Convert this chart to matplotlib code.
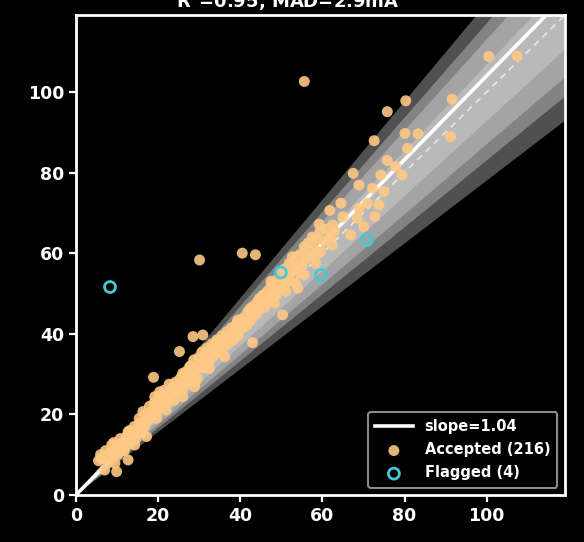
import matplotlib
matplotlib.use("Agg")
import matplotlib.pyplot as plt
import numpy as np

# ---------------- data ----------------
title_text = "R$^2$=0.95, MAD=2.9mA"
fit_slope = 1.04
band_halfwidths = [0.22, 0.17, 0.13, 0.07]
axis_max = 119
ticks = [0, 20, 40, 60, 80, 100]

acc_x = [55.6, 80.3, 75.8, 91.6, 72.6, 80.1, 83.3, 91.2, 80.7, 67.5, 75.8, 77.8, 79.4, 74.2,
         68.9, 72.2, 75.0, 64.5, 73.8, 70.9, 61.8, 68.9, 72.8, 59.2, 62.5, 68.5, 70.1, 66.9,
         62.1, 59.6, 55.6, 62.4, 100.5, 107.4, 30.1, 40.5, 43.7, 52.7, 58.4, 55.6, 54.0, 51.1,
         47.5, 44.7, 50.3, 48.3, 42.2, 39.4, 43.0, 28.5, 30.9, 25.2, 37.8, 34.1, 36.2, 31.7,
         27.7, 32.5, 29.3, 26.0, 25.7, 18.9, 32.5, 20.4, 22.8, 19.2, 26.0, 28.9, 16.3, 19.6,
         15.5, 12.7, 17.2, 14.3, 8.7, 11.1, 6.2, 9.5, 12.7, 7.0, 9.9, 22.0,
         5.5, 6.0, 6.5, 7.2, 7.8, 8.3, 8.8, 9.2, 9.6, 10.2, 10.5, 10.8,
         11.4, 11.8, 12.3, 12.6, 13.1, 13.4, 13.9, 14.2, 14.6, 15.0,
         15.4, 15.8, 16.2, 16.7, 17.1, 17.5, 17.9, 18.3, 18.7, 19.1, 19.5, 19.9,
         20.3, 20.7, 21.1, 21.5, 21.9, 22.3, 22.7, 23.1, 23.5, 23.9, 24.3, 24.7,
         25.1, 25.5, 25.9, 26.3, 26.7, 27.1, 27.5, 27.9, 28.3, 28.7, 29.1, 29.5, 29.9,
         30.3, 30.7, 31.1, 31.5, 31.9, 32.3, 32.7, 33.1, 33.5, 33.9, 34.3, 34.7,
         35.1, 35.5, 35.9, 36.3, 36.7, 37.1, 37.5, 37.9, 38.3, 38.7, 39.1, 39.5, 39.9,
         40.3, 40.7, 41.1, 41.5, 41.9, 42.3, 42.7, 43.1, 43.5, 43.9, 44.3, 44.7,
         45.1, 45.5, 45.9, 46.3, 46.7, 47.1, 47.5, 47.9, 48.3, 48.7, 49.1, 49.5, 49.9,
         50.3, 50.7, 51.1, 51.5, 51.9, 52.3, 52.7, 53.1, 53.5, 53.9, 54.3, 54.7,
         55.1, 55.5, 56.0, 56.5, 57.0, 57.5, 58.0, 58.5, 59.0, 59.5,
         60.5, 61.0, 63.0, 65.0]
acc_y = [102.6, 97.8, 95.1, 98.2, 87.9, 89.7, 89.6, 88.9, 86.0, 79.8, 83.0, 81.5, 79.4, 79.4,
         76.9, 76.1, 75.3, 72.4, 72.0, 72.4, 70.6, 71.1, 69.1, 67.2, 67.0, 68.7, 66.6, 64.5,
         64.1, 60.4, 61.6, 62.0, 108.8, 108.9, 58.3, 60.0, 59.6, 59.1, 57.5, 54.6, 51.3, 53.3,
         51.7, 48.8, 44.7, 47.6, 45.9, 43.4, 37.8, 39.3, 39.7, 35.6, 40.1, 37.6, 34.3, 35.2,
         31.8, 31.4, 28.5, 30.2, 26.9, 29.2, 33.1, 25.6, 24.0, 24.4, 24.4, 26.9, 20.7, 19.0,
         17.8, 15.7, 14.5, 12.4, 12.4, 11.2, 9.1, 7.9, 8.7, 6.2, 5.8, 21.1,
         8.5, 10.0, 9.0, 11.0, 8.0, 10.5, 9.5, 13.0, 11.5, 10.0, 12.5, 14.0,
         13.0, 11.0, 14.5, 12.5, 16.0, 13.5, 15.0, 17.0, 14.0, 16.5,
         19.0, 15.5, 18.0, 17.0, 20.0, 18.5, 22.0, 19.5, 21.0, 23.0, 20.5, 22.5,
         24.5, 21.5, 23.5, 26.0, 22.5, 25.0, 27.5, 24.0, 26.5, 23.5, 28.0, 25.5,
         27.0, 29.0, 26.0, 28.5, 30.5, 27.5, 29.5, 32.0, 30.0, 33.5, 31.0, 29.0, 34.0,
         32.5, 35.5, 31.5, 34.0, 36.5, 33.0, 35.0, 37.5, 34.5, 36.0, 38.5, 35.5,
         37.0, 39.5, 36.5, 38.0, 40.5, 37.5, 39.0, 41.5, 38.5, 40.0, 42.5, 39.5, 41.0,
         43.5, 41.5, 44.0, 42.0, 45.5, 43.0, 46.5, 44.0, 47.0, 45.0, 48.0, 46.0,
         47.5, 49.5, 46.5, 48.5, 50.5, 49.0, 53.0, 50.0, 52.0, 49.5, 53.5, 51.0, 55.0,
         52.5, 56.0, 50.5, 54.0, 57.5, 53.0, 55.5, 58.0, 52.5, 56.5, 59.5, 55.0,
         57.0, 60.0, 58.5, 62.5, 59.5, 64.0, 61.0, 63.5, 60.0, 65.5,
         63.0, 66.0, 65.5, 69.0]

flag_x = [8.3, 49.9, 59.6, 70.9]
flag_y = [51.6, 55.2, 54.6, 63.3]

# ---------------- plot ----------------
plt.rcParams['font.family'] = ['DejaVu Sans']
fig = plt.figure(figsize=(5.84, 5.42), dpi=100, facecolor='black')
ax = fig.add_axes([0.130, 0.0867, 0.837, 0.885])
ax.set_facecolor('black')

xx = np.linspace(0, axis_max, 200)
for w in band_halfwidths:
    ax.fill_between(xx, (1 - w) * xx, (1 + w) * xx, color='#e0e0e0', alpha=0.36,
                    linewidth=0, zorder=1)

ax.plot(xx, xx, color='#e8e8e8', lw=1.2, ls=(0, (4, 3)), zorder=2)
ax.plot(xx, fit_slope * xx, color='white', lw=2.6, zorder=3,
        label=f"slope={fit_slope:.2f}")

ax.scatter(acc_x, acc_y, s=62, color='#fec985', alpha=0.9, edgecolors='none', zorder=4,
           label="Accepted (216)")
ax.scatter(flag_x, flag_y, s=62, facecolors='none', edgecolors='#45c9d6', linewidths=2,
           zorder=5, label="Flagged (4)")

ax.set_xlim(0, axis_max)
ax.set_ylim(0, axis_max)
ax.set_xticks(ticks)
ax.set_yticks(ticks)
for s in ax.spines.values():
    s.set_color('white')
    s.set_linewidth(2)
ax.tick_params(colors='white', length=5, width=1.6, labelsize=12.5)
for lab in ax.get_xticklabels() + ax.get_yticklabels():
    lab.set_fontweight('bold')
    lab.set_color('white')

leg = ax.legend(loc='lower right', frameon=True, facecolor='black', edgecolor='#8a8a8a',
                fontsize=10.5, borderpad=0.5, handlelength=2.6, labelspacing=0.55)
leg.get_frame().set_linewidth(1.5)
leg.get_frame().set_alpha(1)
for t in leg.get_texts():
    t.set_color('white')
    t.set_fontweight('bold')

fig.text(0.493, 0.985, title_text, color='white', fontsize=13, fontweight='bold',
         ha='center', va='baseline')

fig.savefig('out.png', dpi=100, facecolor='black')
